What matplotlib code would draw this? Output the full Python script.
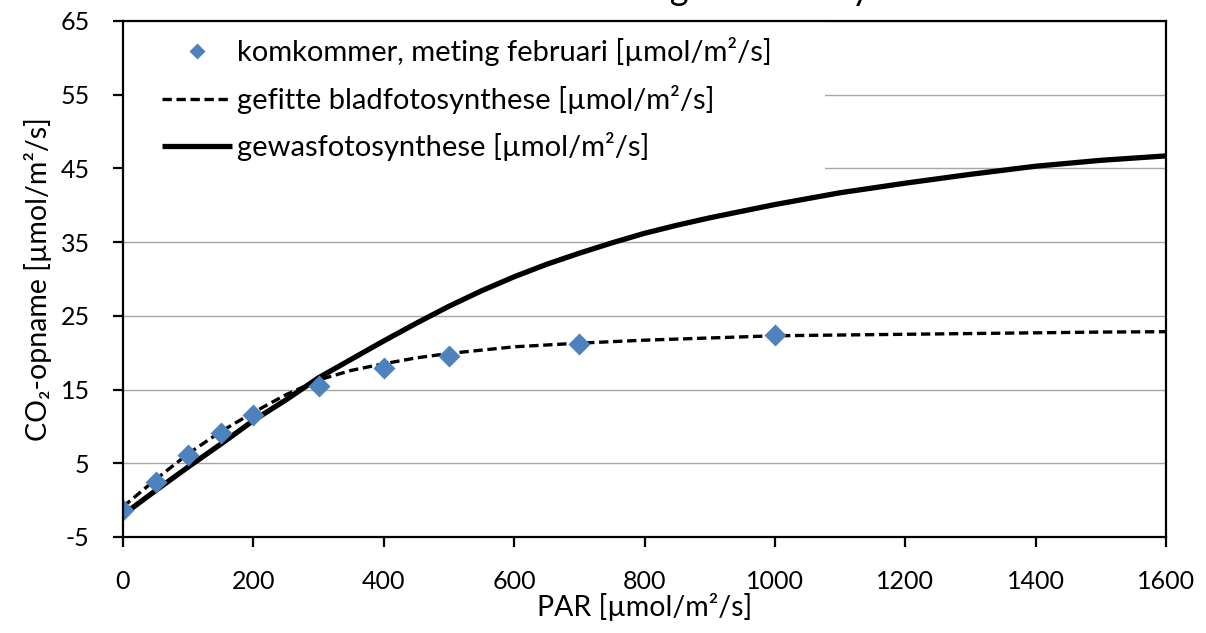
import numpy as np
import matplotlib
matplotlib.use("Agg")
import matplotlib.pyplot as plt
import matplotlib as mpl
from matplotlib.patches import Rectangle

mpl.rcParams['font.family'] = ['Lato', 'DejaVu Sans']
mpl.rcParams['axes.unicode_minus'] = False

# measured leaf photosynthesis (February)
meas_par = [0, 50, 100, 150, 200, 300, 400, 500, 700, 1000]
meas_co2 = [-1.4, 2.4, 6.1, 9.1, 11.6, 15.5, 17.9, 19.6, 21.2, 22.4]

# fitted leaf photosynthesis
fit_par = [0, 50, 100, 150, 200, 250, 300, 350, 400, 450, 500, 600, 700,
           800, 900, 1000, 1100, 1200, 1300, 1400, 1500, 1600]
fit_co2 = [-0.9, 2.8, 6.3, 9.3, 11.9, 14.3, 16.3, 17.6, 18.5, 19.3, 19.9, 20.8,
           21.3, 21.7, 22.0, 22.3, 22.4, 22.5, 22.6, 22.7, 22.8, 22.85]

# crop photosynthesis
crop_par = [0, 50, 100, 150, 200, 250, 300, 350, 400, 450, 500, 550, 600, 650,
            700, 750, 800, 850, 900, 1000, 1100, 1200, 1300, 1400, 1500, 1600]
crop_co2 = [-2.0, 1.3, 4.5, 7.6, 10.8, 13.6, 16.6, 19.1, 21.6, 24.0, 26.3, 28.4,
            30.3, 32.0, 33.5, 34.9, 36.2, 37.3, 38.3, 40.1, 41.7, 43.0, 44.2,
            45.3, 46.1, 46.7]

labels = ["komkommer, meting februari [µmol/m²/s]",
          "gefitte bladfotosynthese [µmol/m²/s]",
          "gewasfotosynthese [µmol/m²/s]"]

TICK_FS = 18
LAB_FS = 20.5
LEG_FS = 21

fig = plt.figure(figsize=(12.06, 6.33), dpi=100)
ax = fig.add_axes([123 / 1206, 1 - 537 / 633, (1166 - 123) / 1206, (537 - 21) / 633])

ax.set_xlim(0, 1600)
ax.set_ylim(-5, 65)
ax.set_xticks(np.arange(0, 1601, 200))
ax.set_yticks(np.arange(-5, 66, 10))
ax.yaxis.grid(True, color='#A6A6A6', linewidth=1.0, zorder=0)
ax.set_axisbelow(True)
for s in ax.spines.values():
    s.set_linewidth(1.6)
    s.set_zorder(5)
ax.tick_params(direction='out', length=7, width=1.6, pad=17, labelsize=TICK_FS)

# legend background (hides gridlines behind legend)
ax.add_patch(Rectangle((0, 1 - 180 / 516), (825 - 123) / 1043, 180 / 516,
                       transform=ax.transAxes, facecolor='white',
                       edgecolor='none', zorder=1))

ax.plot(crop_par, crop_co2, color='black', linewidth=3.8, zorder=3,
        solid_capstyle='butt', label=labels[2])
ax.plot(fit_par, fit_co2, color='black', linewidth=2.4, dashes=(2.8, 1.4),
        zorder=3, label=labels[1])
ax.plot(meas_par, meas_co2, linestyle='none', marker='D', markersize=11,
        color='#4F81BD', markeredgecolor='none', zorder=4, label=labels[0])

h, l = ax.get_legend_handles_labels()
leg = ax.legend(h[::-1], l[::-1], loc='upper left', bbox_to_anchor=(0.023, 0.997),
                frameon=False, fontsize=LEG_FS, handlelength=2.4, handletextpad=0.2,
                labelspacing=0.64, borderpad=0, markerscale=0.7)

ax.set_xlabel("PAR [µmol/m²/s]", fontsize=LAB_FS, labelpad=0)
ax.set_ylabel("CO₂-opname [µmol/m²/s]", fontsize=LAB_FS, labelpad=6)

fig.text(529 / 1206, 1.0, "Blad- en gewasfotosynthese", fontsize=26,
         ha='left', va='baseline')

fig.savefig("out.png", dpi=100)
